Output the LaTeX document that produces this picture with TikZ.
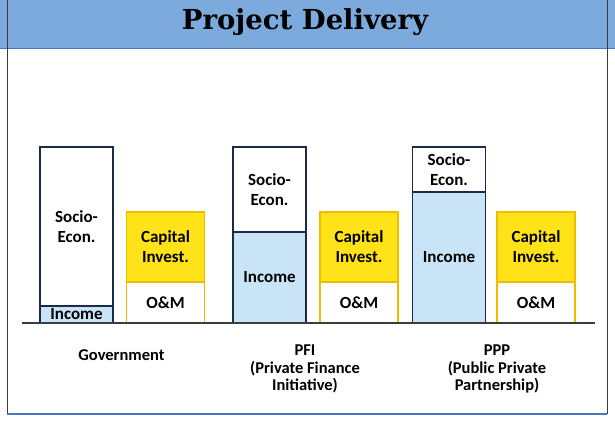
\documentclass[tikz,border=0pt]{standalone}
\usepackage{fontspec}
\setmainfont{Carlito}
\newfontfamily\titlefont{DejaVu Serif}
\definecolor{bandblue}{RGB}{124,170,220}
\definecolor{bandedge}{RGB}{70,120,190}
\definecolor{boxnavy}{RGB}{28,42,72}
\definecolor{incblue}{RGB}{200,228,246}
\definecolor{capyellow}{RGB}{255,226,24}
\definecolor{capgold}{RGB}{238,188,0}
\definecolor{axisgray}{RGB}{60,60,60}
\tikzset{
  seg/.style={draw=boxnavy, line width=1.6pt, inner sep=0pt, minimum width=73pt,
    align=center, font=\bfseries\fontsize{17}{20}\selectfont},
  capseg/.style={seg, draw=capgold, minimum width=78pt},
  lbl/.style={align=center, font=\bfseries\fontsize{16.5}{17.5}\selectfont}
}
\begin{document}
\begin{tikzpicture}[x=1pt, y=1pt]
\useasboundingbox (0,0) rectangle (615,-431);
\fill [white] (0,0) rectangle (615,-431);
% title band
\fill [bandblue] (0,0) rectangle (615,-48);
\draw [bandedge, line width=1pt] (0,-48) -- (615,-48);
\node [font=\titlefont\bfseries\fontsize{27.5}{30}\selectfont] (title) at (305,-22) {Project Delivery};
% frame
\draw [axisgray, line width=1pt] (7,0) -- (7,-414);
\draw [axisgray, line width=1pt] (607,0) -- (607,-414);
\draw [bandedge, line width=2pt] (7,-414) -- (607,-414);
% Government
\node [seg, minimum height=159pt] (govsoc) at (76.5,-226.5) {Socio-\\Econ.};
\node [seg, fill=incblue, minimum height=17pt] (govinc) at (76.5,-314.5) {Income};
\node [capseg, fill=capyellow, minimum height=70pt] (govcap) at (165.5,-247) {Capital\\Invest.};
\node [capseg, minimum height=41pt] (govom) at (165.5,-302.5) {O\&M};
% PFI
\node [seg, minimum height=85pt] (pfisoc) at (269.5,-189.5) {Socio-\\Econ.};
\node [seg, fill=incblue, minimum height=91pt] (pfiinc) at (269.5,-277.5) {Income};
\node [capseg, fill=capyellow, minimum height=70pt] (pficap) at (359,-247) {Capital\\Invest.};
\node [capseg, minimum height=41pt] (pfiom) at (359,-302.5) {O\&M};
% PPP
\node [seg, minimum height=45pt] (pppsoc) at (449,-169.5) {Socio-\\Econ.};
\node [seg, fill=incblue, minimum height=131pt] (pppinc) at (449,-257.5) {Income};
\node [capseg, fill=capyellow, minimum height=70pt] (pppcap) at (536,-247) {Capital\\Invest.};
\node [capseg, minimum height=41pt] (pppom) at (536,-302.5) {O\&M};
% base line
\coordinate (axl) at (22,-323);
\coordinate (axr) at (595,-323);
\draw [axisgray, line width=2pt] (axl) -- (axr);
% labels
\node [lbl] (govlbl) at (121.5,-355) {Government};
\node [lbl] (pfilbl) at (305,-369) {PFI\\(Private Finance\\Initiative)};
\node [lbl] (ppplbl) at (497,-369) {PPP\\(Public Private\\Partnership)};
\end{tikzpicture}
\end{document}
